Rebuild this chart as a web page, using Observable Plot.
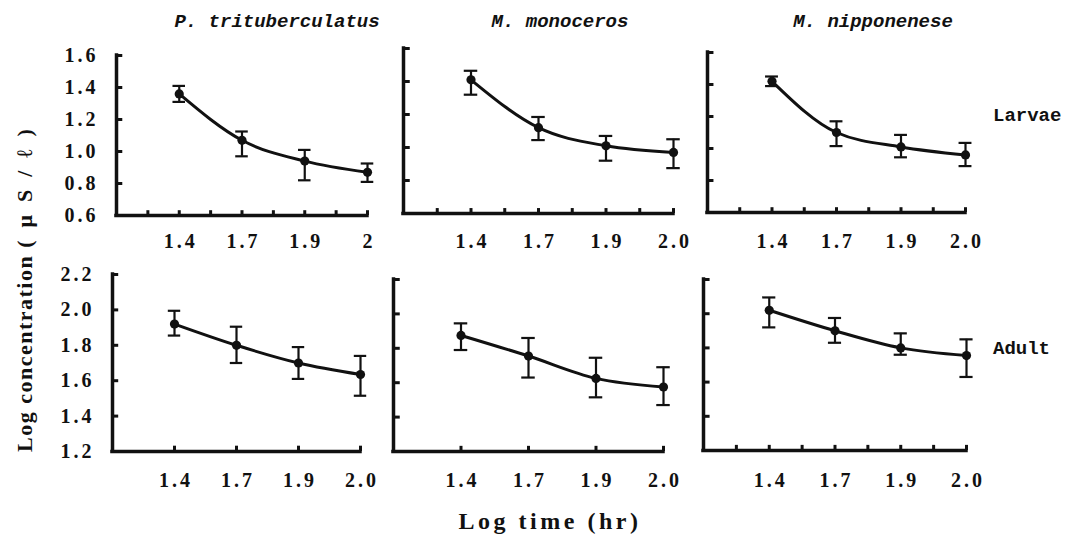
<!DOCTYPE html>
<html><head><meta charset="utf-8">
<script src="https://cdn.jsdelivr.net/npm/d3@7"></script>
<script src="https://cdn.jsdelivr.net/npm/@observablehq/plot@0.6"></script>
<style>
body{margin:0;background:#fff;}
#fig{position:relative;width:1069px;height:548px;overflow:hidden;background:#fff;}
#fig svg{position:absolute;}
</style></head><body><div id="fig"></div>
<script>
// ---- data ----
const times = ["1.4","1.7","1.9","2.0"];
const timesFirstPanel = ["1.4","1.7","1.9","2"];
const species = ["P. trituberculatus","M. monoceros","M. nipponenese"];
const stages = ["Larvae","Adult"];
const larvaeTicks = [0.6,0.8,1.0,1.2,1.4,1.6];
const adultTicks = [1.2,1.4,1.6,1.8,2.0,2.2];

// Larvae
const pLarvaeMean = [1.36, 1.07, 0.94, 0.87];
const pLarvaeLow  = [1.31, 0.97, 0.82, 0.81];
const pLarvaeHigh = [1.41, 1.125, 1.01, 0.925];
const mmLarvaeMean = [1.41, 1.12, 1.01, 0.97];
const mmLarvaeLow  = [1.32, 1.045, 0.92, 0.875];
const mmLarvaeHigh = [1.465, 1.185, 1.07, 1.05];
const mnLarvaeMean = [1.42, 1.10, 1.01, 0.96];
const mnLarvaeLow  = [1.39, 1.015, 0.945, 0.89];
const mnLarvaeHigh = [1.45, 1.17, 1.085, 1.035];
// Adult
const pAdultMean = [1.92, 1.80, 1.70, 1.635];
const pAdultLow  = [1.855, 1.70, 1.61, 1.515];
const pAdultHigh = [1.995, 1.905, 1.79, 1.74];
const mmAdultMean = [1.875, 1.755, 1.625, 1.575];
const mmAdultLow  = [1.79, 1.63, 1.515, 1.47];
const mmAdultHigh = [1.945, 1.86, 1.745, 1.69];
const mnAdultMean = [2.02, 1.90, 1.80, 1.755];
const mnAdultLow  = [1.92, 1.83, 1.76, 1.63];
const mnAdultHigh = [2.095, 1.975, 1.885, 1.85];

// ---- layout ----
const ink = "#111";
const panels = [
  {left:116, right:367, top:55,  bottom:215, ydomain:[0.6,1.6], yticks:larvaeTicks, labels:timesFirstPanel, mean:pLarvaeMean, low:pLarvaeLow, high:pLarvaeHigh, showY:true, minor:true, padX:18},
  {left:403, right:673, top:48,  bottom:213, ydomain:[0.6,1.6], yticks:larvaeTicks, labels:times, mean:mmLarvaeMean, low:mmLarvaeLow, high:mmLarvaeHigh, showY:false, minor:true, padX:20},
  {left:707, right:965, top:52,  bottom:212, ydomain:[0.6,1.6], yticks:larvaeTicks, labels:times, mean:mnLarvaeMean, low:mnLarvaeLow, high:mnLarvaeHigh, showY:false, minor:true, padX:21},
  {left:112, right:360, top:274, bottom:451, ydomain:[1.2,2.2], yticks:adultTicks, labels:times, mean:pAdultMean, low:pAdultLow, high:pAdultHigh, showY:true, minor:false, padX:21},
  {left:393, right:663, top:279, bottom:451, ydomain:[1.2,2.2], yticks:adultTicks, labels:times, mean:mmAdultMean, low:mmAdultLow, high:mmAdultHigh, showY:false, minor:false, padX:21},
  {left:703, right:966, top:279, bottom:450, ydomain:[1.2,2.2], yticks:adultTicks, labels:times, mean:mnAdultMean, low:mnAdultLow, high:mnAdultHigh, showY:false, minor:true, padX:22}
];

const fig = document.getElementById("fig");
const tickFont = {fontFamily:"'Liberation Serif', serif", fontSize:20, fontWeight:"bold"};

panels.forEach(p => {
  const mL = p.showY ? 90 : 12, mR = 12, mT = 12, mB = 50;
  const [ymin, ymax] = p.ydomain;
  const tickLen = (ymax - ymin) * 0.03;
  const majors = times.map((t, i) => 2 * (i + 1));
  const minors = p.minor ? times.map((t, i) => 2 * i + 1) : [];
  const rows = times.map((t, i) => ({x: 2 * (i + 1), y: p.mean[i], lo: p.low[i], hi: p.high[i], label: p.labels[i]}));
  const marks = [
    Plot.ruleX([0], {y1: ymin, y2: ymax, stroke: ink, strokeWidth: 3.5, strokeLinecap: "square"}),
    Plot.ruleY([ymin], {x1: 0, x2: 8, stroke: ink, strokeWidth: 3.5, strokeLinecap: "square"}),
    Plot.ruleY(p.yticks, {y: d => d, x1: 0, x2: 0.2, stroke: ink, strokeWidth: 3}),
    Plot.ruleX([...majors, ...minors], {x: d => d, y1: ymin, y2: ymin + tickLen, stroke: ink, strokeWidth: 3}),
    Plot.ruleX(rows, {x: "x", y1: "lo", y2: "hi", stroke: ink, strokeWidth: 2.2}),
    Plot.ruleY(rows, {y: "hi", x1: d => d.x - 0.2, x2: d => d.x + 0.2, stroke: ink, strokeWidth: 2.2}),
    Plot.ruleY(rows, {y: "lo", x1: d => d.x - 0.2, x2: d => d.x + 0.2, stroke: ink, strokeWidth: 2.2}),
    Plot.line(rows, {x: "x", y: "y", curve: "monotone-x", stroke: ink, strokeWidth: 3}),
    Plot.dot(rows, {x: "x", y: "y", r: 4.6, fill: ink, stroke: "none"}),
    Plot.text(rows, {x: "x", text: "label", frameAnchor: "bottom", lineAnchor: "top", dy: p.padX, dx: 1.5, fill: ink, ...tickFont})
  ];
  if (p.showY) {
    marks.push(Plot.text(p.yticks, {y: d => d, text: d => d.toFixed(1), frameAnchor: "left", textAnchor: "end", dx: -18, fill: ink, ...tickFont}));
  }
  const plot = Plot.plot({
    width: mL + (p.right - p.left) + mR,
    height: mT + (p.bottom - p.top) + mB,
    marginLeft: mL, marginRight: mR, marginTop: mT, marginBottom: mB,
    x: {domain: [0, 8], axis: null},
    y: {domain: p.ydomain, axis: null},
    marks
  });
  plot.style.position = "absolute";
  plot.style.left = (p.left - mL) + "px";
  plot.style.top = (p.top - mT) + "px";
  plot.style.background = "none";
  plot.style.overflow = "visible";
  plot.style.maxWidth = "none";
  d3.select(plot).selectAll("text").style("letter-spacing", "3px");
  fig.appendChild(plot);
});

// ---- titles and labels ----
const svg = d3.select(fig).append("svg")
  .attr("width", 1069).attr("height", 548)
  .style("left", "0px").style("top", "0px").style("overflow", "visible");

const titleX = [277, 560, 873];
species.forEach((s, i) => {
  svg.append("text").attr("x", titleX[i]).attr("y", 27)
    .attr("text-anchor", "middle")
    .attr("font-family", "'Liberation Mono', monospace").attr("font-size", 19)
    .attr("font-weight", "bold").attr("font-style", "italic").attr("fill", ink)
    .text(s);
});
const stageY = [121, 354];
stages.forEach((s, i) => {
  svg.append("text").attr("x", 993).attr("y", stageY[i])
    .attr("font-family", "'Liberation Mono', monospace").attr("font-size", 19)
    .attr("font-weight", "bold").attr("fill", ink)
    .text(s);
});
svg.append("text").attr("x", 550).attr("y", 529).attr("text-anchor", "middle")
  .attr("font-family", "'Liberation Serif', serif").attr("font-size", 24)
  .attr("font-weight", "bold").attr("fill", ink).style("letter-spacing", "3.5px")
  .text("Log time (hr)");
const yl = svg.append("text").attr("transform", "translate(32,452) rotate(-90)")
  .attr("font-family", "'Liberation Serif', serif").attr("font-size", 22)
  .attr("font-weight", "bold").attr("fill", ink);
yl.append("tspan").style("letter-spacing", "1.5px").text("Log concentration ");
yl.append("tspan").style("letter-spacing", "13px").text("(μS/ℓ)");
</script></body></html>
